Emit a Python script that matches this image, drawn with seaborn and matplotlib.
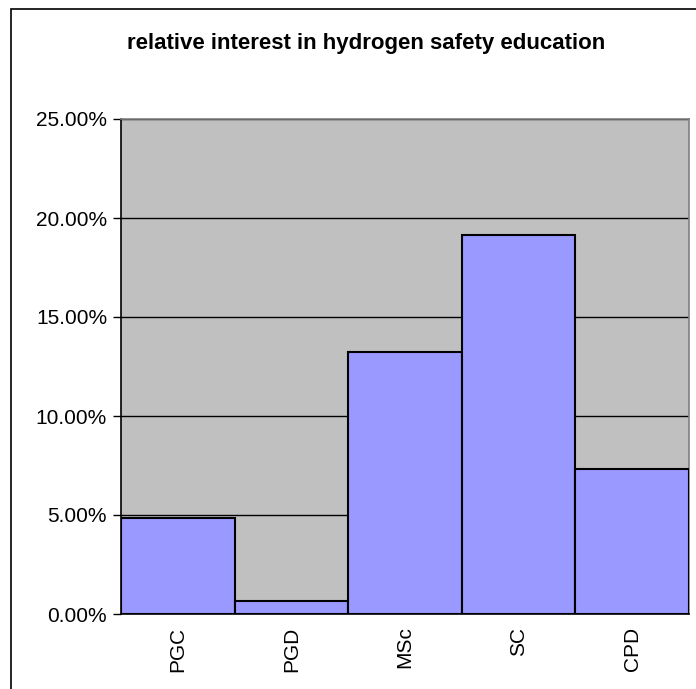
import matplotlib
matplotlib.use("Agg")
import matplotlib.pyplot as plt
import matplotlib.ticker as mticker
from matplotlib.patches import Rectangle
import seaborn as sns
import pandas as pd

# values (share of respondents)
courses = ["PGC", "PGD", "MSc", "SC", "CPD"]
interest = [0.0487, 0.0067, 0.1323, 0.1914, 0.0732]

df = pd.DataFrame({"course": courses, "interest": interest})

sns.set_style("white")
plt.rcParams["font.family"] = ["Liberation Sans", "DejaVu Sans"]
plt.rcParams["text.color"] = "black"
plt.rcParams["xtick.color"] = "black"
plt.rcParams["ytick.color"] = "black"

fig = plt.figure(figsize=(6.96, 6.89), dpi=100)
ax = fig.add_axes([121 / 696, 1 - 614 / 689, (689 - 121) / 696, (614 - 119) / 689])
ax.set_facecolor("#C0C0C0")

sns.barplot(data=df, x="course", y="interest", color="#9999FF", width=1.0,
            edgecolor="black", linewidth=1.5, saturation=1, ax=ax, zorder=3)

ax.set_xlim(-0.5, len(courses) - 0.5)
ax.set_ylim(0, 0.25)
ax.yaxis.set_major_locator(mticker.MultipleLocator(0.05))
ax.yaxis.set_major_formatter(mticker.PercentFormatter(xmax=1, decimals=2))
ax.grid(axis="y", color="black", linewidth=1, zorder=0)
ax.set_axisbelow(True)

# ticks between the bars, labels centred under the bars
ax.set_xticks([i - 0.5 for i in range(len(courses) + 1)], minor=True)
ax.tick_params(axis="x", which="minor", length=6, width=1, color="black")
ax.tick_params(axis="x", which="major", length=0, labelrotation=90, labelsize=15, pad=9)
ax.tick_params(axis="y", length=6, width=1, color="black", labelsize=15, pad=4, left=True)

ax.set_xlabel("")
ax.set_ylabel("")

for side in ["top", "right"]:
    ax.spines[side].set_color("#808080")
    ax.spines[side].set_linewidth(1.2)
for side in ["left", "bottom"]:
    ax.spines[side].set_color("black")
    ax.spines[side].set_linewidth(1.2)

fig.text(366 / 696, 1 - 43 / 689, "relative interest in hydrogen safety education",
         ha="center", va="center", fontsize=16, fontweight="bold")

# outer chart frame (cut off at right and bottom)
frame = Rectangle((10.5 / 696, -0.1), 2, 1 - 9.5 / 689 + 0.1, transform=fig.transFigure,
                  fill=False, edgecolor="black", linewidth=1.2)
fig.patches.append(frame)

fig.savefig("out.png", dpi=100)
